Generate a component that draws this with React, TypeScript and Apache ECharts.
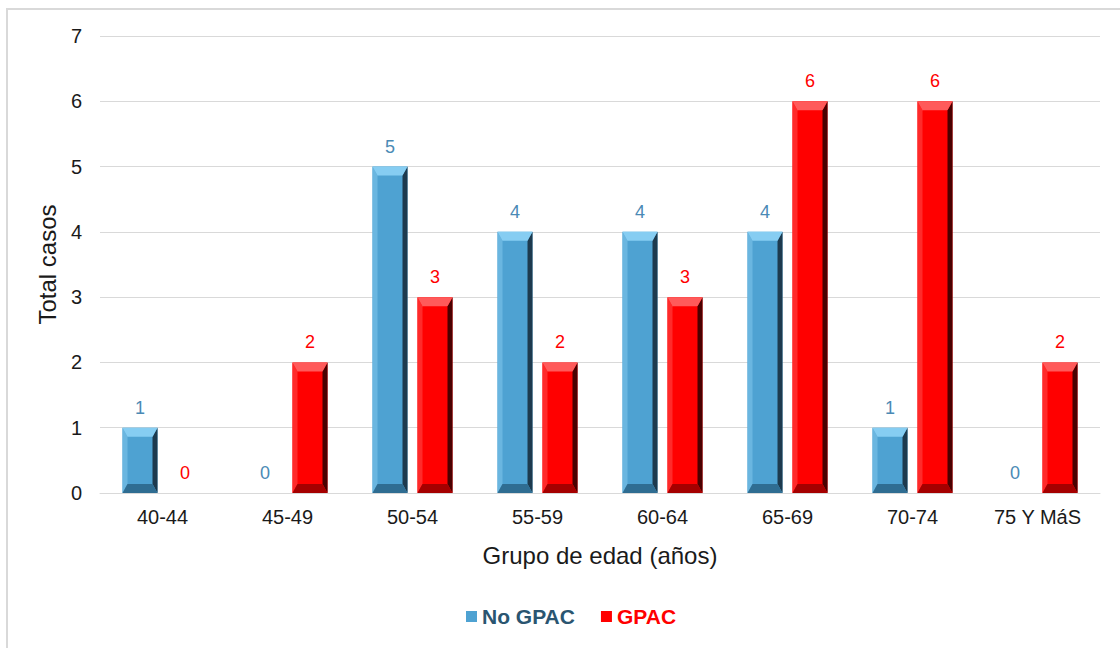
import React, { useEffect, useRef } from "react";
import * as echarts from "echarts";

const categories = ["40-44", "45-49", "50-54", "55-59", "60-64", "65-69", "70-74", "75 Y MáS"];
const noGpac = [1, 0, 5, 4, 4, 4, 1, 0];
const gpac = [0, 2, 3, 2, 3, 6, 6, 2];
const yTicks = [0, 1, 2, 3, 4, 5, 6, 7];

const FONT = "'Liberation Sans', Arial, sans-serif";

const palettes = [
  { main: "#4ea2d2", light: "#86cdf2", dark: "#1d3a4e", bottom: "#2f6d92", left: "#6ab6e0", label: "#4a8ab5", legend: "#2a5570" },
  { main: "#ff0000", light: "#ff5a5a", dark: "#4a0000", bottom: "#a50000", left: "#ff2a2a", label: "#ff0000", legend: "#ff0000" },
];

function makeRender(si: number) {
  return (params: any, api: any) => {
    const idx = api.value(0);
    const v = api.value(1);
    const base = api.coord([idx, 0]);
    const top = api.coord([idx, v]);
    const band = api.size([1, 0])[0];
    const w = band * 0.28;
    const gap = 5;
    const x = si === 0 ? base[0] - gap - w : base[0] + gap;
    const y = top[1];
    const h = base[1] - top[1];
    const p = palettes[si];
    const children: any[] = [];
    if (h > 0) {
      const b = Math.min(9, h / 2, w / 2);
      const bs = Math.min(5, w / 4);
      children.push({ type: "rect", shape: { x, y, width: w, height: h }, style: { fill: p.main } });
      children.push({ type: "polygon", shape: { points: [[x + w, y], [x + w, y + h], [x + w - bs, y + h - b], [x + w - bs, y + b]] }, style: { fill: p.dark } });
      children.push({ type: "polygon", shape: { points: [[x, y], [x + bs, y + b], [x + bs, y + h - b], [x, y + h]] }, style: { fill: p.left } });
      children.push({ type: "polygon", shape: { points: [[x, y], [x + w, y], [x + w - bs, y + b], [x + bs, y + b]] }, style: { fill: p.light } });
      children.push({ type: "polygon", shape: { points: [[x + bs, y + h - b], [x + w - bs, y + h - b], [x + w, y + h], [x, y + h]] }, style: { fill: p.bottom } });
    }
    children.push({
      type: "text",
      style: {
        text: String(v),
        x: x + w / 2,
        y: y - 20,
        fill: p.label,
        fontSize: 18,
        fontFamily: FONT,
        align: "center",
        verticalAlign: "middle",
      },
    });
    return { type: "group", children };
  };
}

export default function App() {
  const ref = useRef<HTMLDivElement>(null);
  useEffect(() => {
    if (!ref.current) return;
    const chart = echarts.init(ref.current, null, { renderer: "svg" });
    chart.setOption({
      animation: false,
      backgroundColor: "#ffffff",
      graphic: [
        {
          type: "rect",
          shape: { x: 7, y: 9, width: 1200, height: 700 },
          style: { fill: "none", stroke: "#d9d9d9", lineWidth: 2 },
          silent: true,
        },
      ],
      grid: { left: 100, right: 20, top: 36, bottom: 155 },
      xAxis: {
        type: "category",
        data: categories,
        axisTick: { show: false },
        axisLine: { show: true, lineStyle: { color: "#d9d9d9", width: 1 } },
        axisLabel: { color: "#1a1a1a", fontSize: 20, fontFamily: FONT, margin: 14 },
        name: "Grupo de edad (años)",
        nameLocation: "middle",
        nameGap: 50,
        nameTextStyle: { color: "#1a1a1a", fontSize: 24, fontFamily: FONT },
      },
      yAxis: {
        type: "value",
        min: 0,
        max: 7,
        interval: 1,
        axisLine: { show: false },
        axisTick: { show: false },
        splitLine: { lineStyle: { color: "#d9d9d9", width: 1 } },
        axisLabel: {
          color: "#1a1a1a",
          fontSize: 20,
          fontFamily: FONT,
          margin: 18,
          formatter: (val: number) => (yTicks.includes(val) ? String(val) : ""),
        },
        name: "Total casos",
        nameLocation: "middle",
        nameGap: 34,
        nameTextStyle: { color: "#1a1a1a", fontSize: 24, fontFamily: FONT },
      },
      legend: {
        bottom: 16,
        left: 461,
        itemWidth: 11,
        itemHeight: 11,
        itemGap: 26,
        icon: "rect",
        data: [
          { name: "No GPAC", textStyle: { color: palettes[0].legend, fontWeight: "bold", fontSize: 21, fontFamily: FONT } },
          { name: "GPAC", textStyle: { color: palettes[1].legend, fontWeight: "bold", fontSize: 21, fontFamily: FONT } },
        ],
        textStyle: { fontSize: 21, fontFamily: FONT, fontWeight: "bold" },
      },
      series: [
        {
          name: "No GPAC",
          type: "custom",
          renderItem: makeRender(0),
          itemStyle: { color: palettes[0].main },
          data: noGpac.map((v, i) => [i, v]),
          encode: { x: 0, y: 1 },
        },
        {
          name: "GPAC",
          type: "custom",
          renderItem: makeRender(1),
          itemStyle: { color: palettes[1].main },
          data: gpac.map((v, i) => [i, v]),
          encode: { x: 0, y: 1 },
        },
      ],
    });
    return () => chart.dispose();
  }, []);
  return <div ref={ref} style={{ position: "fixed", left: 0, top: 0, width: 1120, height: 648 }} />;
}
